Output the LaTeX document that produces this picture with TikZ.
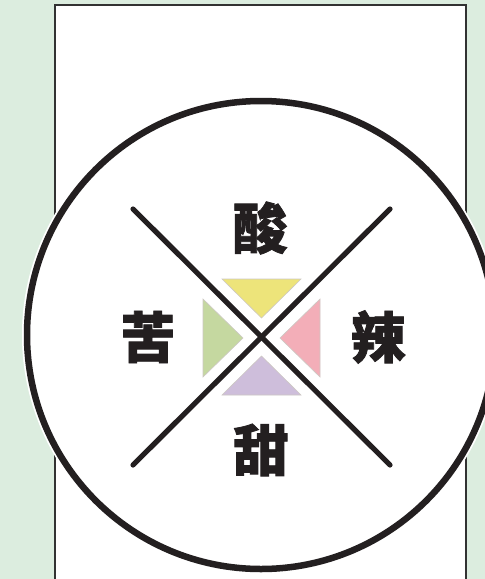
\documentclass[tikz,border=0pt]{standalone}
\usepackage{fontspec}
\newfontfamily\cjk{Noto Sans CJK SC}[BoldFeatures={FakeBold=1.5}]
\definecolor{bgg}{RGB}{220,237,223}
\definecolor{ink}{RGB}{35,31,32}
\definecolor{tyel}{RGB}{237,228,122}
\definecolor{tgrn}{RGB}{197,216,160}
\definecolor{tpnk}{RGB}{243,174,184}
\definecolor{tpur}{RGB}{206,190,219}
\tikzset{
  every picture/.style={x=1pt,y=-1pt},
  tri/.style={draw={rgb,255:red,205;green,200;blue,195},line width=0.6pt},
  xline/.style={draw=ink,line width=5.2pt,line cap=round},
  taste/.style={font=\cjk\bfseries\fontsize{55}{55}\selectfont,text=ink,inner sep=0pt}
}
\begin{document}
\begin{tikzpicture}
\useasboundingbox (0,0) rectangle (485,579);
\clip (0,0) rectangle (485,579);
\fill[bgg] (0,0) rectangle (485,579);
\draw[fill=white,draw={rgb,255:red,50;green,50;blue,50},line width=1.8pt] (55,5) rectangle (466,600);
\coordinate (c) at (261,335);
\fill[white] (c) circle (238.5);
\draw[white,line width=10pt] (c) circle (234);
\draw[ink,line width=6.5pt] (c) circle (234);
% triangles
\path[tri,fill=tyel] (222,279) -- (301,279) -- (261.5,318) -- cycle;
\path[tri,fill=tpur] (222,395) -- (301,395) -- (261.5,356) -- cycle;
\path[tri,fill=tgrn] (203,299) -- (203,377) -- (243,338) -- cycle;
\path[tri,fill=tpnk] (320,299) -- (320,377) -- (280,338) -- cycle;
% X lines
\coordinate (tl) at (133,209);
\coordinate (tr) at (390,209);
\coordinate (bl) at (133,465);
\coordinate (br) at (390,465);
\draw[white,line width=10pt] (tl) -- (br) (tr) -- (bl);
\draw[xline] (tl) -- (br);
\draw[xline] (tr) -- (bl);
% labels
\node[taste] (suan) at (260,228) {酸};
\node[taste] (ku) at (148,337) {苦};
\node[taste] (la) at (378,337) {辣};
\node[taste] (tian) at (261,450) {甜};
\end{tikzpicture}
\end{document}
